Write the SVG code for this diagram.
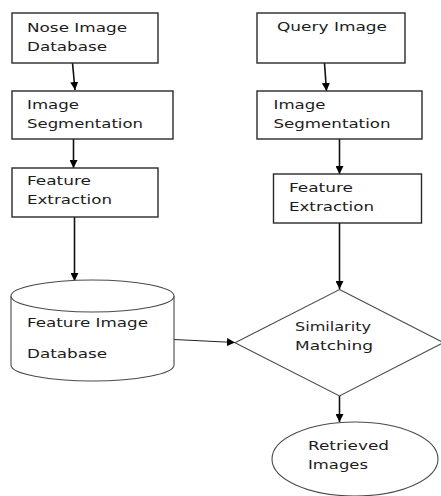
<svg xmlns="http://www.w3.org/2000/svg" width="441" height="496" viewBox="0 0 441 496">
<style>
.box{fill:#fff;stroke:#2a2a2a;stroke-width:1.4}
.thin{fill:#fff;stroke:#4a4a4a;stroke-width:1.1}
.lbl{font-family:"DejaVu Sans",Verdana,sans-serif;font-size:13px;fill:#1c1c1c}
.conn{stroke:#111;stroke-width:1.6;fill:none}
.conn2{stroke:#222;stroke-width:1.1;fill:none}
</style>
<defs>
<marker id="ah" viewBox="0 0 10 10" refX="10" refY="5" markerWidth="5.5" markerHeight="5.5" markerUnits="userSpaceOnUse" orient="auto">
<path d="M0,0 L10,5 L0,10 z" fill="#000"/>
</marker>
<marker id="ah2" viewBox="0 0 10 10" refX="10" refY="5" markerWidth="8" markerHeight="8" markerUnits="userSpaceOnUse" orient="auto">
<path d="M0,0 L10,5 L0,10 z" fill="#000"/>
</marker>
</defs>
<rect width="441" height="496" fill="#fff"/>

<g id="connectors">
<path class="conn" d="M72.5,63 L75,90" marker-end="url(#ah2)"/>
<path class="conn" d="M73.5,139 L73.5,168" marker-end="url(#ah2)"/>
<path class="conn" d="M74.5,217 L74.5,281" marker-end="url(#ah2)"/>
<path class="conn" d="M324.5,63 L326.5,91" marker-end="url(#ah2)"/>
<path class="conn" d="M339.5,139 L339.5,174" marker-end="url(#ah2)"/>
<path class="conn" d="M339.5,223 L339.5,289" marker-end="url(#ah2)"/>
<path class="conn2" d="M174,339.5 L235,342.5" marker-end="url(#ah2)"/>
<path class="conn" d="M339.5,396 L339.5,422" marker-end="url(#ah2)"/>
</g>

<g id="nose-db">
<rect class="box" x="12" y="13" width="146" height="50"/>
<text class="lbl" x="27" y="31.7" textLength="100" lengthAdjust="spacingAndGlyphs">Nose Image</text>
<text class="lbl" x="27" y="50.5" textLength="80" lengthAdjust="spacingAndGlyphs">Database</text>
</g>

<g id="seg-left">
<rect class="box" x="12" y="91" width="161" height="48"/>
<text class="lbl" x="27" y="109" textLength="52" lengthAdjust="spacingAndGlyphs">Image</text>
<text class="lbl" x="27" y="127.7" textLength="116" lengthAdjust="spacingAndGlyphs">Segmentation</text>
</g>

<g id="feat-left">
<rect class="box" x="12" y="168" width="146" height="49"/>
<text class="lbl" x="27" y="185" textLength="64" lengthAdjust="spacingAndGlyphs">Feature</text>
<text class="lbl" x="27" y="204" textLength="85" lengthAdjust="spacingAndGlyphs">Extraction</text>
</g>

<g id="query">
<rect class="box" x="257" y="13" width="148" height="50"/>
<text class="lbl" x="277" y="31" textLength="110" lengthAdjust="spacingAndGlyphs">Query Image</text>
</g>

<g id="seg-right">
<rect class="box" x="257" y="91" width="165" height="48"/>
<text class="lbl" x="273.5" y="109" textLength="52" lengthAdjust="spacingAndGlyphs">Image</text>
<text class="lbl" x="273.5" y="127.7" textLength="117" lengthAdjust="spacingAndGlyphs">Segmentation</text>
</g>

<g id="feat-right">
<rect class="box" x="273.5" y="174" width="148" height="49"/>
<text class="lbl" x="289" y="191.5" textLength="64" lengthAdjust="spacingAndGlyphs">Feature</text>
<text class="lbl" x="289" y="210.5" textLength="85" lengthAdjust="spacingAndGlyphs">Extraction</text>
</g>

<g id="feature-db">
<path class="thin" d="M11,296 L11,365 A81.5,16 0 0 0 174,365 L174,296"/>
<ellipse class="thin" cx="92.5" cy="296" rx="81.5" ry="16"/>
<text class="lbl" x="27" y="327" textLength="121" lengthAdjust="spacingAndGlyphs">Feature Image</text>
<text class="lbl" x="27" y="358.3" textLength="80" lengthAdjust="spacingAndGlyphs">Database</text>
</g>

<g id="similarity">
<polygon class="thin" points="339.5,289.5 443.5,342.7 339.5,396 235,342.7"/>
<text class="lbl" x="295" y="331" textLength="76" lengthAdjust="spacingAndGlyphs">Similarity</text>
<text class="lbl" x="295" y="349.5" textLength="78" lengthAdjust="spacingAndGlyphs">Matching</text>
</g>

<g id="retrieved">
<ellipse class="thin" cx="355" cy="459" rx="83" ry="37"/>
<text class="lbl" x="308" y="450" textLength="81" lengthAdjust="spacingAndGlyphs">Retrieved</text>
<text class="lbl" x="308" y="469" textLength="60" lengthAdjust="spacingAndGlyphs">Images</text>
</g>
</svg>
